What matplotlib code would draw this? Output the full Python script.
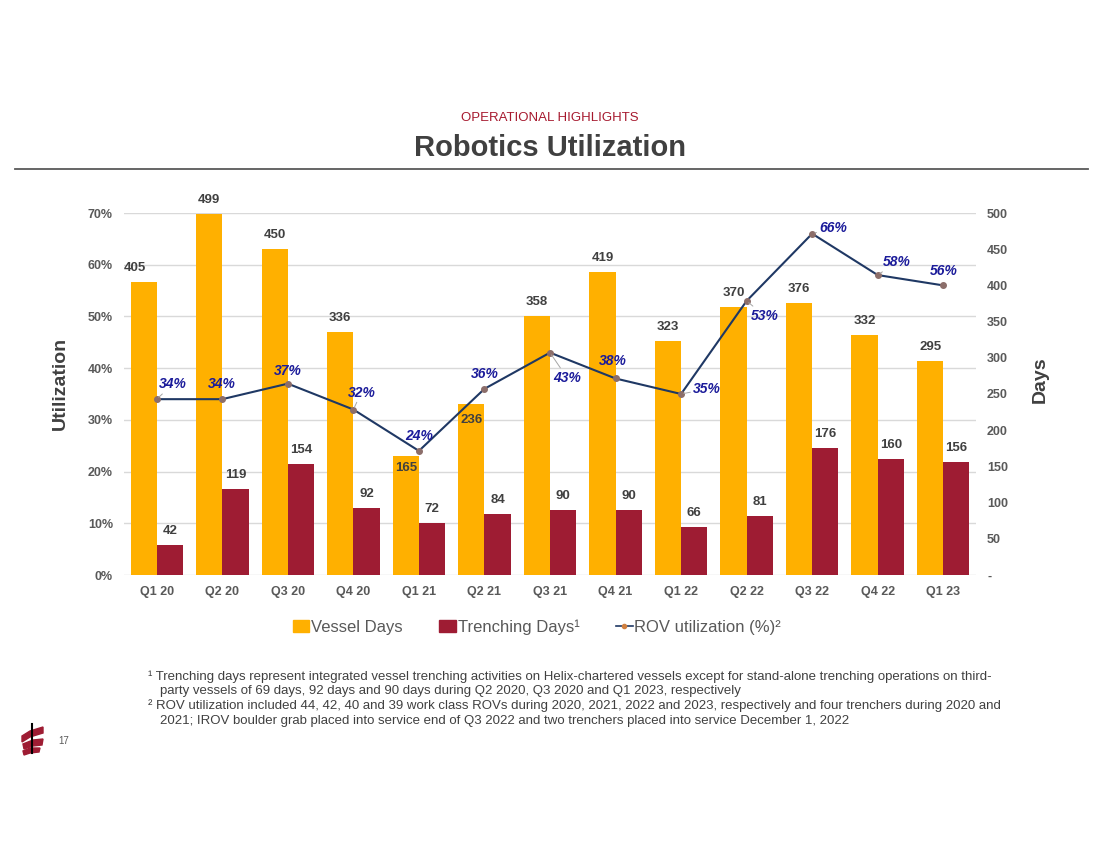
import matplotlib.pyplot as plt
import numpy as np
from matplotlib.patches import Polygon, Patch
from matplotlib.lines import Line2D

plt.rcParams['font.family'] = ['Liberation Sans', 'DejaVu Sans']

quarters = ['Q1 20', 'Q2 20', 'Q3 20', 'Q4 20', 'Q1 21', 'Q2 21', 'Q3 21',
            'Q4 21', 'Q1 22', 'Q2 22', 'Q3 22', 'Q4 22', 'Q1 23']
vessel_days = [405, 499, 450, 336, 165, 236, 358, 419, 323, 370, 376, 332, 295]
trenching_days = [42, 119, 154, 92, 72, 84, 90, 90, 66, 81, 176, 160, 156]
rov_util = [34, 34, 37, 32, 24, 36, 43, 38, 35, 53, 66, 58, 56]

ORANGE = '#FFB000'
RED = '#9E1C33'
NAVY = '#1F3864'
LBLUE = '#1B1B9A'
DGRAY = '#404040'
TGRAY = '#595959'

# label offsets in pixels (dx, dy) and whether a leader line is drawn
pct_offsets = [(16, 15, True), (0, 15, False), (0, 13, False), (8, 17, True),
               (0, 15, False), (0, 15, False), (17, -25, True), (-3, 17, False),
               (26, 5, True), (18, -15, True), (21, 6, True), (19, 13, True),
               (1, 14, False)]
vessel_label_off = [(-9, 14), (0, 14), (0, 14), (0, 14), (0, -12), (0, -16), (0, 14),
                    (0, 14), (0, 14), (0, 14), (0, 14), (0, 14), (0, 14)]

fig = plt.figure(figsize=(11, 8.49), dpi=100)
x = np.arange(len(quarters))
w = 0.4

ax = fig.add_axes([124 / 1100, 1 - 575 / 849, 852 / 1100, 362 / 849])
ax.set_xlim(-0.5, len(quarters) - 0.5)
ax.set_ylim(0, 0.7)
ax.set_yticks(np.arange(0, 0.71, 0.1))
ax.set_yticklabels([f'{int(round(v * 100))}%' for v in np.arange(0, 0.71, 0.1)])
ax.grid(axis='y', color='#D9D9D9', lw=1)
ax.set_axisbelow(True)
for s in ax.spines.values():
    s.set_visible(False)
ax.tick_params(axis='both', length=0, labelsize=9, labelcolor=TGRAY, pad=8)
for t in ax.get_yticklabels() + ax.get_xticklabels():
    t.set_fontweight('bold')
ax.set_xticks(x)
ax.set_xticklabels(quarters, fontweight='bold')

ax2 = ax.twinx()
ax2.set_ylim(0, 500)
ax2.set_yticks(np.arange(0, 501, 50))
ax2.set_yticklabels(['-'] + [str(v) for v in range(50, 501, 50)], fontweight='bold')
ax2.tick_params(axis='y', length=0, labelsize=9, labelcolor=TGRAY, pad=8)
for s in ax2.spines.values():
    s.set_visible(False)

ax2.bar(x - w / 2, vessel_days, w, color=ORANGE)
ax2.bar(x + w / 2, trenching_days, w, color=RED)

for i, v in enumerate(vessel_days):
    ax2.annotate(str(v), (x[i] - w / 2, v), xytext=vessel_label_off[i], textcoords='offset pixels',
                 ha='center', va='center', fontsize=9.5, fontweight='bold', color=DGRAY)
for i, v in enumerate(trenching_days):
    ax2.annotate(str(v), (x[i] + w / 2, v), xytext=(0, 14), textcoords='offset pixels',
                 ha='center', va='center', fontsize=9.5, fontweight='bold', color=DGRAY)

ax3 = ax.twinx()
ax3.set_ylim(0, 0.7)
ax3.set_yticks([])
for s in ax3.spines.values():
    s.set_visible(False)
ax3.plot(x, np.array(rov_util) / 100, color=NAVY, lw=1.5, marker='o', ms=4,
         mfc='#8C6E6A', mec='#8C6E6A')
for i, v in enumerate(rov_util):
    dx, dy, lead = pct_offsets[i]
    ap = dict(arrowstyle='-', color='#A6A6A6', lw=0.7, shrinkA=0, shrinkB=2) if lead else None
    ax3.annotate(f'{v}%', (x[i], v / 100), xytext=(dx, dy), textcoords='offset pixels',
                 ha='center', va='center', fontsize=10, fontweight='bold',
                 fontstyle='italic', color=LBLUE, arrowprops=ap)

fig.text(60 / 1100, 1 - 383 / 849, 'Utilization', rotation=90, ha='center', va='center',
         fontsize=14, fontweight='bold', color=DGRAY)
fig.text(1040 / 1100, 1 - 380 / 849, 'Days', rotation=90, ha='center', va='center',
         fontsize=14, fontweight='bold', color=DGRAY)

# titles
fig.text(0.5, 1 - 118 / 849, 'OPERATIONAL HIGHLIGHTS', ha='center', va='center',
         fontsize=9.5, color='#A6192E')
fig.text(0.5, 1 - 148 / 849, 'Robotics Utilization', ha='center', va='center',
         fontsize=21, fontweight='bold', color=DGRAY)
fig.add_artist(Line2D([15 / 1100, 1088 / 1100], [1 - 169 / 849, 1 - 169 / 849],
                      color=TGRAY, lw=1.3))

handles = [Patch(color=ORANGE), Patch(color=RED),
           Line2D([], [], color=NAVY, lw=1.2, marker='o', ms=3, mfc='#D08040', mec='#D08040')]
fig.legend(handles, ['Vessel Days', 'Trenching Days¹', 'ROV utilization (%)²'],
           loc='center', bbox_to_anchor=(537 / 1100, 1 - 627 / 849), ncol=3, frameon=False,
           fontsize=12, labelcolor=TGRAY, handlelength=1.0, handleheight=0.8,
           handletextpad=0.1, columnspacing=2.2)

notes = [
    (148, 677, '¹ Trenching days represent integrated vessel trenching activities on Helix-chartered vessels except for stand-alone trenching operations on third-'),
    (160, 691, 'party vessels of 69 days, 92 days and 90 days during Q2 2020, Q3 2020 and Q1 2023, respectively'),
    (148, 706, '² ROV utilization included 44, 42, 40 and 39 work class ROVs during 2020, 2021, 2022 and 2023, respectively and four trenchers during 2020 and'),
    (160, 721, '2021; IROV boulder grab placed into service end of Q3 2022 and two trenchers placed into service December 1, 2022'),
]
for nx, ny, txt in notes:
    fig.text(nx / 1100, 1 - ny / 849, txt, ha='left', va='center', fontsize=9.55, color=DGRAY)

fig.text(64 / 1100, 1 - 741 / 849, '17', ha='center', va='center', fontsize=7, color=TGRAY)

# simple logo mark
def px(pts):
    return [(a / 1100, 1 - b / 849) for a, b in pts]

fig.add_artist(Line2D([32 / 1100, 32 / 1100], [1 - 724 / 849, 1 - 753 / 849], color='black', lw=1.5))
for poly in ([(22, 736), (30, 731), (43, 727), (43, 733), (30, 737), (22, 742)],
             [(23, 744), (33, 740), (43, 739), (42, 745), (33, 746), (24, 749)],
             [(23, 751), (30, 748), (40, 748), (39, 752), (30, 753), (24, 755)]):
    fig.add_artist(Polygon(px(poly), closed=True, color=RED, transform=fig.transFigure))

fig.savefig('out.png', dpi=100)
